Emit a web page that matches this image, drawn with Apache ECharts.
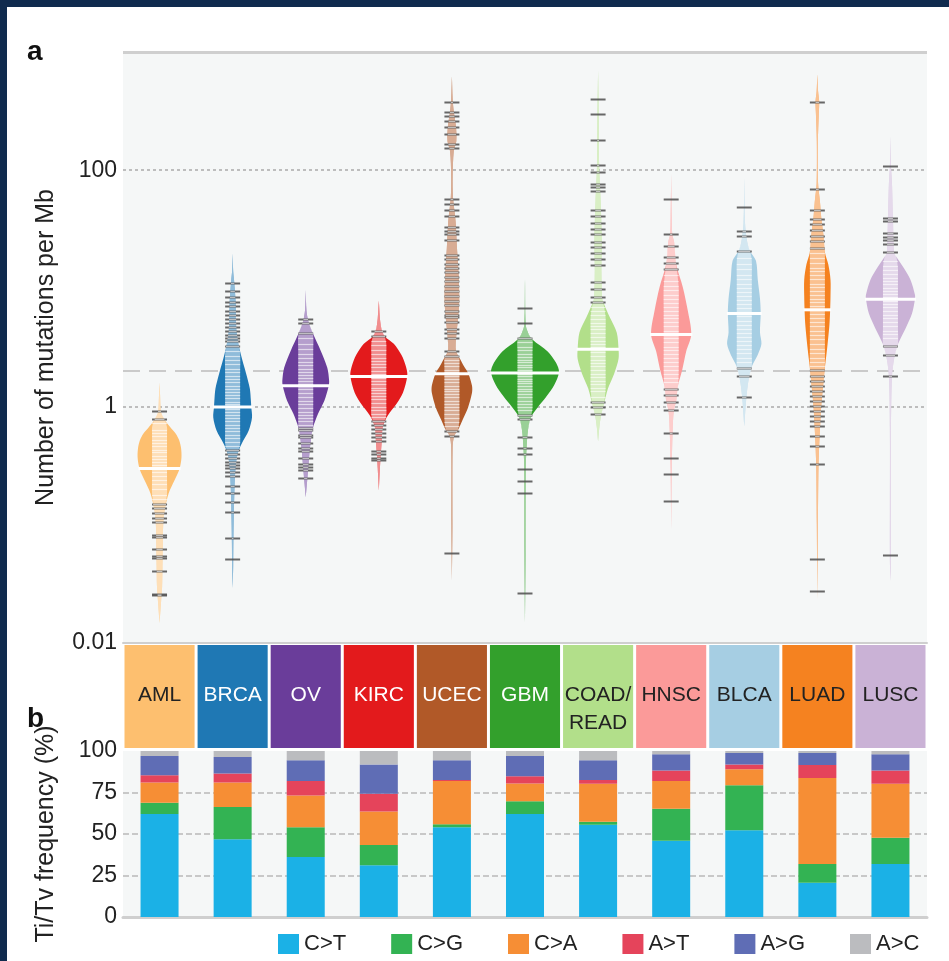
<!DOCTYPE html>
<html>
<head>
<meta charset="utf-8">
<script src="https://cdn.jsdelivr.net/npm/echarts@6/dist/echarts.min.js"></script>
<style>
html,body{margin:0;padding:0;background:#fff;}
#chart{width:949px;height:961px;}
</style>
</head>
<body>
<div id="chart"></div>
<script>
// ---------------- DATA ----------------
const cancers = ['AML','BRCA','OV','KIRC','UCEC','GBM','COAD/READ','HNSC','BLCA','LUAD','LUSC'];
const bandLabels = ['AML','BRCA','OV','KIRC','UCEC','GBM','COAD/\nREAD','HNSC','BLCA','LUAD','LUSC'];

// panel a: y-axis tick labels
const aTickValues = [0.01, 1, 100];
const aTickLabels = ['0.01', '1', '100'];
const overallMedian = 2.0;

// median mutations per Mb per cancer
const medians = [0.30, 0.99, 1.50, 1.80, 1.90, 1.92, 3.05, 4.08, 6.12, 6.59, 8.09];

// bean density profiles: [mutations per Mb, bean width as % of category width]
const amlDensity = [[1.6,0],[1.24,1.5],[0.95,3],[0.873,5],[0.762,15],[0.665,30],[0.592,44],[0.517,54],[0.442,59],[0.371,60],[0.3,55],[0.238,41],[0.185,25],[0.133,14],[0.1,10],[0.07,9],[0.045,8],[0.03,7],[0.022,4],[0.0148,0]];
const brcaDensity = [[19.7,0],[14,1.5],[11.6,4],[7.85,8],[4.2,11],[2.8,22],[1.9,37],[1.42,47],[1.12,50],[0.99,51],[0.807,53],[0.627,44],[0.487,25],[0.401,14],[0.305,8],[0.2,5],[0.11,3],[0.07,2],[0.045,1.5],[0.029,0]];
const ovDensity = [[9.7,0],[6.5,2],[5.3,7],[4.13,20],[2.97,41],[2.13,59],[1.66,64],[1.5,63],[1.12,51],[0.873,34],[0.665,20],[0.517,14],[0.4,10],[0.305,7],[0.238,4],[0.171,0]];
const kircDensity = [[7.9,0],[4.92,5],[3.94,16],[3.4,41],[2.73,62],[2.19,74],[1.83,78],[1.31,66],[1.05,48],[0.843,25],[0.678,11],[0.507,8],[0.379,5],[0.301,3],[0.194,0]];
const ucecDensity = [[625,0],[405,2],[315,5],[235,11],[176,12],[145,5],[89,2],[59,3],[37,10],[21.5,14],[15.5,17],[11.6,19],[7.85,20],[5.64,17],[3.97,12],[2.97,11],[2.54,22],[2.19,33],[1.9,45],[1.5,55],[1.31,55],[0.98,44],[0.783,30],[0.627,16],[0.562,6],[0.45,2],[0.1,1.5],[0.0333,0]];
const gbmDensity = [[12,0],[4.92,2],[4.24,8],[3.67,21],[2.93,62],[2.35,85],[1.96,93],[1.52,80],[1.21,58],[0.98,34],[0.81,16],[0.627,8],[0.434,4],[0.3,2],[0.056,1.5],[0.0148,0]];
const coadDensity = [[698,0],[259,2],[108,3],[54.7,7],[25.2,10],[14.1,9],[8.22,11],[7.69,14],[5.69,32],[4.24,51],[3.05,56],[2.54,56],[1.9,44],[1.42,27],[1.05,16],[0.84,8],[0.65,3],[0.507,0]];
const hnscDensity = [[94,0],[40,1.5],[28.6,3],[24.7,8],[15.9,14],[10.2,32],[6.59,45],[4.08,55],[2.93,41],[2.03,30],[1.52,19],[1.13,14],[0.908,7],[0.627,4],[0.3,1.5],[0.09,0]];
const blcaDensity = [[86,0],[35.7,2],[24.7,8],[20.6,16],[17.1,32],[11.8,37],[8.22,43],[6.12,45],[4.24,43],[3.4,47],[2.75,37],[2.19,21],[1.63,11],[1.13,5],[0.678,0]];
const luadDensity = [[649,0],[466,2],[382,5],[303,4],[176,1.5],[77.1,2],[54.7,7],[38.6,11],[27.7,17],[19.9,21],[15.9,30],[11.8,36],[8.65,36],[6.59,35],[4.92,33],[3.16,27],[2.19,21],[1.52,16],[1.05,11],[0.727,8],[0.469,5],[0.301,3],[0.1,1.5],[0.0231,0]];
const luscDensity = [[194,0],[108,1.5],[80,4],[37.1,7],[19.9,10],[18.5,16],[14.8,37],[11.8,55],[8.83,67],[8.09,67],[6.12,59],[4.56,41],[3.4,21],[2.54,10],[1.76,4],[0.627,1.5],[0.05,1.5],[0.0333,0]];

// individual samples (mutations per Mb)
const amlSamples = [0.91,0.78,0.72,0.64,0.6,0.56,0.52,0.49,0.46,0.43,0.41,0.38,0.36,0.34,0.32,0.28,0.26,0.24,0.22,0.2,0.18,0.165,0.15,0.14,0.125,0.115,0.106,0.082,0.079,0.063,0.054,0.052,0.041,0.026,0.0255];
const brcaSamples = [11.2,9.5,8.4,7.6,7.1,6.5,5.9,5.5,5.1,4.7,4.4,4.0,3.8,3.6,3.27,2.97,2.7,2.5,2.3,2.1,1.95,1.8,1.7,1.6,1.5,1.4,1.32,1.25,1.18,1.1,1.05,0.95,0.9,0.85,0.8,0.75,0.7,0.66,0.62,0.58,0.54,0.5,0.46,0.43,0.40,0.37,0.34,0.32,0.30,0.28,0.26,0.215,0.185,0.155,0.128,0.077,0.051];
const ovSamples = [5.5,5.1,4.2,3.8,3.4,3.1,2.8,2.6,2.4,2.25,2.1,1.95,1.85,1.75,1.65,1.55,1.4,1.3,1.2,1.12,1.05,0.98,0.9,0.85,0.8,0.75,0.7,0.66,0.63,0.58,0.55,0.49,0.45,0.425,0.37,0.33,0.31,0.29,0.25];
const kircSamples = [4.4,3.94,3.6,3.3,3.0,2.8,2.6,2.45,2.3,2.15,2.0,1.9,1.75,1.65,1.55,1.45,1.38,1.3,1.22,1.15,1.08,1.0,0.93,0.87,0.82,0.75,0.70,0.65,0.6,0.55,0.51,0.42,0.40,0.37,0.35];
const ucecSamples = [375,311,289,259,232,201,167,155,57.4,51.4,46.1,41.3,33.2,30.8,28.6,25.7,19.2,17.7,16,15,13.8,12.5,11.6,10.5,9.5,8.7,7.85,7.2,6.46,6.0,5.75,5.2,4.55,4.2,3.82,2.97,2.7,2.5,2.35,2.2,2.05,1.95,1.8,1.7,1.6,1.5,1.42,1.35,1.28,1.2,1.12,1.05,1.0,0.93,0.87,0.8,0.74,0.68,0.62,0.562,0.0577];
const gbmSamples = [6.85,5.1,3.8,3.5,3.2,3.0,2.8,2.65,2.5,2.38,2.25,2.15,2.05,1.98,1.88,1.8,1.72,1.65,1.58,1.5,1.42,1.35,1.28,1.2,1.12,1.05,1.0,0.94,0.85,0.78,0.551,0.45,0.398,0.297,0.233,0.185,0.0263];
const coadSamples = [402,297,179,111,96,77,72,66.5,46.1,41.3,35.7,32,28.6,24.7,22.2,19.8,17.7,15.9,11.4,9.9,8.5,7.7,7.0,6.4,5.9,5.5,5.1,4.8,4.5,4.2,3.9,3.6,3.4,3.2,2.9,2.7,2.5,2.35,2.2,2.05,1.9,1.78,1.65,1.55,1.45,1.35,1.21,1.1,1.0,0.87];
const hnscSamples = [56.9,28.6,23.0,18.5,16.4,14.6,13,11.5,10.5,9.6,8.8,8.1,7.5,7.0,6.5,6.0,5.6,5.2,4.8,4.4,4.1,3.8,3.5,3.2,3.0,2.8,2.6,2.4,2.2,2.05,1.9,1.75,1.6,1.42,1.25,1.1,0.94,0.596,0.371,0.27,0.158];
const blcaSamples = [48.9,30.8,27.5,20.6,18,16,14.5,13,12,11,10,9.3,8.6,8.0,7.4,6.8,6.3,5.8,5.3,4.9,4.5,4.2,3.9,3.6,3.35,3.1,2.85,2.6,2.4,2.11,1.83,1.2];
const luadSamples = [375,69,46.1,38.6,35,31,28,25,22,20,18,16.5,15,14,13,12,11,10.2,9.5,8.8,8.2,7.6,7.1,6.6,6.1,5.6,5.2,4.8,4.4,4.0,3.7,3.4,3.1,2.85,2.6,2.4,2.2,2.03,1.83,1.66,1.5,1.36,1.24,1.12,1.02,0.925,0.84,0.762,0.69,0.562,0.46,0.33,0.0513,0.0276];
const luscSamples = [108.5,39.4,37.1,29.6,27.3,25.7,23.8,20.3,17,15.5,14.2,13.2,12.3,11.5,10.8,10.1,9.5,8.9,8.4,7.9,7.4,6.9,6.4,6.0,5.6,5.2,4.8,4.4,4.1,3.8,3.27,2.75,1.83,0.055];

// panel b: Ti/Tv frequency (%)
const tvTypes = ['C>T','C>G','C>A','A>T','A>G','A>C'];
const ctPct = [62.0, 46.8, 36.2, 31.2, 54.0, 62.0, 55.6, 46.0, 52.2, 20.6, 32.0];
const cgPct = [ 6.8, 19.4, 17.8, 12.2,  1.8,  7.8,  1.8, 19.2, 27.2, 11.4, 15.8];
const caPct = [12.2, 14.8, 19.2, 20.2, 26.2, 10.6, 22.8, 16.8,  9.6, 51.8, 32.4];
const atPct = [ 4.4,  5.4,  8.8, 10.6,  0.6,  4.4,  2.4,  6.2,  2.8,  7.8,  8.0];
const agPct = [11.6, 10.0, 12.4, 17.6, 11.8, 12.2, 11.8,  9.8,  7.0,  7.2,  9.8];
const acPct = [ 3.0,  3.6,  5.6,  8.2,  5.6,  3.0,  5.6,  2.0,  1.2,  1.2,  2.0];
const bTickValues = [0, 25, 50, 75, 100];

// ---------------- STYLE ----------------
const FONT = "'Liberation Sans', Arial, Helvetica, sans-serif";
const cancerColors = ['#fdbf6f','#1f78b4','#6a3d9a','#e31a1c','#b15928','#33a02c','#b2df8a','#fb9a99','#a6cee3','#f58220','#cab2d6'];
const bandTextColors = ['#222','#fff','#fff','#fff','#fff','#fff','#222','#222','#222','#222','#222'];
const tvColors = ['#1bb1e6','#33b353','#f68e35','#e5445b','#5f6db5','#bbbcbf'];
const LINE_FRAC = 0.205; // sample line length as fraction of category width

const densities = [amlDensity, brcaDensity, ovDensity, kircDensity, ucecDensity, gbmDensity, coadDensity, hnscDensity, blcaDensity, luadDensity, luscDensity];
const samples = [amlSamples, brcaSamples, ovSamples, kircSamples, ucecSamples, gbmSamples, coadSamples, hnscSamples, blcaSamples, luadSamples, luscSamples];
const tvData = [ctPct, cgPct, caPct, atPct, agPct, acPct];

function renderBean(params, api) {
  const i = api.value(0);
  const cw = api.size([1, 1])[0];
  const cx = api.coord([i, 1])[0];
  const pts = densities[i].map(d => [api.coord([i, d[0]])[1], d[1] / 100 * cw / 2]);
  pts.sort((a, b) => a[0] - b[0]);
  const halfLine = LINE_FRAC * cw / 2;
  function halfAt(y) {
    if (y <= pts[0][0] || y >= pts[pts.length - 1][0]) return 0;
    for (let k = 0; k < pts.length - 1; k++) {
      const a = pts[k], b = pts[k + 1];
      if (y >= a[0] && y <= b[0]) {
        const t = (y - a[0]) / ((b[0] - a[0]) || 1);
        return a[1] + t * (b[1] - a[1]);
      }
    }
    return 0;
  }
  const children = [];
  const right = pts.map(p => [cx + p[1], p[0]]);
  const left = pts.slice().reverse().map(p => [cx - p[1], p[0]]);
  children.push({ type: 'polygon', shape: { points: right.concat(left), smooth: 0.3 },
    style: { fill: cancerColors[i] } });
  const innerR = pts.map(p => [cx + Math.min(p[1], halfLine), p[0]]);
  const innerL = pts.slice().reverse().map(p => [cx - Math.min(p[1], halfLine), p[0]]);
  children.push({ type: 'polygon', shape: { points: innerR.concat(innerL), smooth: 0.3 },
    style: { fill: 'rgba(255,255,255,0.5)' } });
  samples[i].forEach(v => {
    const y = Math.round(api.coord([i, v])[1]) + 0.5;
    const h = halfAt(y);
    if (h < halfLine) {
      children.push({ type: 'line', shape: { x1: cx - halfLine, y1: y, x2: cx + halfLine, y2: y },
        style: { stroke: '#4d4d4d', lineWidth: 2, opacity: 0.85 } });
    }
    const w = Math.min(h, halfLine);
    if (w > 0.8) {
      children.push({ type: 'line', shape: { x1: cx - w, y1: y, x2: cx + w, y2: y },
        style: { stroke: '#ffffff', lineWidth: 1.2, opacity: 0.6 } });
    }
  });
  const ym = api.coord([i, api.value(1)])[1];
  const hm = halfAt(ym);
  children.push({ type: 'line', shape: { x1: cx - hm - 1, y1: ym, x2: cx + hm + 1, y2: ym },
    style: { stroke: '#ffffff', lineWidth: 3 } });
  return { type: 'group', children };
}

function renderBand(params, api) {
  const i = api.value(0);
  const cw = api.size([1, 1])[0];
  const cx = api.coord([i, 0])[0];
  const top = api.coord([i, 1])[1];
  const bot = api.coord([i, 0])[1];
  return { type: 'group', children: [
    { type: 'rect', shape: { x: cx - cw / 2 + 1.5, y: top, width: cw - 3, height: bot - top },
      style: { fill: cancerColors[i] } },
    { type: 'text', x: cx, y: top + 36,
      style: { text: bandLabels[i], fill: bandTextColors[i], font: '21px ' + FONT,
        align: 'center', verticalAlign: 'top', lineHeight: 28 } }
  ]};
}

function isTick(v, list) {
  return list.findIndex(t => Math.abs(Math.log10(v) - Math.log10(t)) < 1e-6);
}

const chart = echarts.init(document.getElementById('chart'), null, { renderer: 'canvas' });
const option = {
  backgroundColor: '#ffffff',
  animation: false,
  textStyle: { fontFamily: FONT },
  graphic: [
    { type: 'rect', shape: { x: 0, y: 0, width: 949, height: 7 }, style: { fill: '#102b4e' }, z: 100 },
    { type: 'rect', shape: { x: 0, y: 0, width: 7, height: 961 }, style: { fill: '#102b4e' }, z: 100 },
    { type: 'text', x: 27, y: 38, style: { text: 'a', font: 'bold 28px ' + FONT, fill: '#111' } },
    { type: 'text', x: 27, y: 705, style: { text: 'b', font: 'bold 28px ' + FONT, fill: '#111' } }
  ],
  legend: {
    data: tvTypes, left: 273, top: 928, itemWidth: 21, itemHeight: 20, itemGap: 45,
    icon: 'rect', selectedMode: false,
    textStyle: { fontSize: 22, color: '#222', fontFamily: FONT }
  },
  grid: [
    { left: 123, top: 52, width: 804, height: 591, show: true, backgroundColor: '#f5f7f7', borderWidth: 0 },
    { left: 123, top: 645, width: 804, height: 103 },
    { left: 123, top: 751, width: 804, height: 166, show: true, backgroundColor: '#f5f7f7', borderWidth: 0 }
  ],
  xAxis: [
    { gridIndex: 0, type: 'category', data: cancers, boundaryGap: true,
      axisLine: { lineStyle: { color: '#cfcfcf', width: 2 } }, axisTick: { show: false }, axisLabel: { show: false } },
    { gridIndex: 1, type: 'category', data: cancers, show: false },
    { gridIndex: 2, type: 'category', data: cancers,
      axisLine: { lineStyle: { color: '#cfcfcf', width: 3 } }, axisTick: { show: false }, axisLabel: { show: false } }
  ],
  yAxis: [
    { gridIndex: 0, type: 'log', logBase: 10, min: 0.01, max: 1000,
      axisLine: { show: false }, axisTick: { show: false }, splitLine: { show: false },
      axisLabel: { fontSize: 23, color: '#222', margin: 6,
        formatter: v => { const k = isTick(v, aTickValues); return k >= 0 ? aTickLabels[k] : ''; } },
      name: 'Number of mutations per Mb', nameLocation: 'middle', nameGap: 64,
      nameTextStyle: { fontSize: 25, color: '#222' } },
    { gridIndex: 1, type: 'value', min: 0, max: 1, show: false },
    { gridIndex: 2, type: 'value', min: 0, max: 100, interval: 25,
      axisLine: { show: false }, axisTick: { show: false },
      axisLabel: { fontSize: 23, color: '#222', margin: 6,
        formatter: v => bTickValues.indexOf(v) >= 0 ? String(v) : '' },
      splitLine: { show: true, showMinLine: false, showMaxLine: false,
        lineStyle: { type: [6, 3], color: '#c8c8c8', width: 2 } },
      name: 'Ti/Tv frequency (%)', nameLocation: 'middle', nameGap: 64,
      nameTextStyle: { fontSize: 25, color: '#222' } }
  ],
  series: [
    { type: 'line', xAxisIndex: 0, yAxisIndex: 0, data: [], z: 1, silent: true,
      markLine: { silent: true, symbol: ['none', 'none'], label: { show: false }, animation: false,
        data: [
          { yAxis: 1000, lineStyle: { type: 'solid', color: '#cfcfcf', width: 3 } },
          { yAxis: aTickValues[2], lineStyle: { type: [3, 3], color: '#bdbdbd', width: 2 } },
          { yAxis: aTickValues[1], lineStyle: { type: [3, 3], color: '#bdbdbd', width: 2 } },
          { yAxis: overallMedian, lineStyle: { type: [17, 9], color: '#cacaca', width: 2 } }
        ] } },
    { type: 'custom', xAxisIndex: 0, yAxisIndex: 0, z: 5, clip: false,
      data: cancers.map((c, i) => [i, medians[i]]), renderItem: renderBean },
    { type: 'custom', xAxisIndex: 1, yAxisIndex: 1, z: 5,
      data: cancers.map((c, i) => [i]), renderItem: renderBand },
    ...tvTypes.map((t, k) => ({
      name: t, type: 'bar', stack: 'tv', xAxisIndex: 2, yAxisIndex: 2, barWidth: '52%',
      itemStyle: { color: tvColors[k] }, data: tvData[k]
    }))
  ]
};
chart.setOption(option);
</script>
</body>
</html>
